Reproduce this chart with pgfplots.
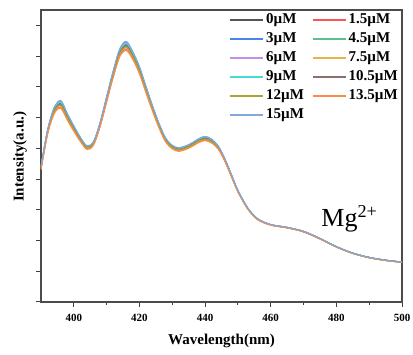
\documentclass[border=0pt]{standalone}
\usepackage{pgfplots}
\pgfplotsset{compat=1.18}
\usepackage{pgfplotstable}
\usepackage{fontspec}
\setmainfont{Liberation Serif}
\definecolor{serA}{RGB}{85,85,85}
\definecolor{serB}{RGB}{250,85,85}
\definecolor{serC}{RGB}{74,134,232}
\definecolor{serD}{RGB}{92,191,140}
\definecolor{serE}{RGB}{192,143,230}
\definecolor{serF}{RGB}{227,181,74}
\definecolor{serG}{RGB}{69,218,218}
\definecolor{serH}{RGB}{142,110,110}
\definecolor{serI}{RGB}{170,166,50}
\definecolor{serJ}{RGB}{255,140,70}
\definecolor{serK}{RGB}{126,169,218}
\pgfplotstableread{
x a b c d e f g h i j k
390 4.38 4.32 4.41 4.35 4.40 4.34 4.39 4.37 4.35 4.30 4.42
392 5.55 5.47 5.59 5.52 5.57 5.50 5.56 5.53 5.51 5.45 5.60
394 6.25 6.15 6.31 6.21 6.28 6.18 6.27 6.23 6.20 6.12 6.32
396 6.47 6.34 6.54 6.42 6.51 6.38 6.49 6.44 6.40 6.30 6.56
398 6.06 5.95 6.12 6.02 6.10 5.99 6.08 6.04 6.00 5.92 6.14
400 5.67 5.58 5.72 5.63 5.69 5.60 5.68 5.65 5.62 5.55 5.73
402 5.31 5.24 5.35 5.28 5.33 5.26 5.32 5.30 5.27 5.22 5.36
404 5.04 4.98 5.07 5.01 5.06 5.00 5.05 5.03 5.01 4.96 5.08
406 5.18 5.12 5.21 5.15 5.20 5.14 5.19 5.17 5.15 5.10 5.22
408 5.79 5.72 5.83 5.76 5.81 5.74 5.80 5.78 5.75 5.70 5.84
410 6.62 6.53 6.67 6.58 6.64 6.55 6.63 6.60 6.57 6.50 6.68
412 7.44 7.33 7.50 7.40 7.48 7.37 7.46 7.42 7.38 7.30 7.52
414 8.15 8.02 8.22 8.10 8.19 8.06 8.17 8.12 8.08 7.98 8.24
416 8.38 8.23 8.46 8.32 8.42 8.27 8.40 8.35 8.29 8.18 8.48
418 8.05 7.92 8.12 8.00 8.09 7.96 8.07 8.02 7.98 7.88 8.14
420 7.58 7.46 7.64 7.53 7.61 7.49 7.60 7.55 7.51 7.42 7.66
422 6.94 6.83 7.00 6.89 6.97 6.86 6.95 6.92 6.88 6.80 7.01
424 6.32 6.23 6.37 6.28 6.34 6.25 6.33 6.30 6.27 6.20 6.38
426 5.75 5.67 5.79 5.72 5.77 5.70 5.76 5.73 5.71 5.65 5.80
428 5.28 5.22 5.32 5.26 5.30 5.24 5.29 5.27 5.25 5.20 5.33
430 5.06 5.00 5.09 5.03 5.08 5.02 5.07 5.05 5.03 4.98 5.10
432 4.98 4.92 5.01 4.95 5.00 4.94 4.99 4.97 4.95 4.90 5.02
435 5.08 5.02 5.11 5.05 5.10 5.04 5.09 5.07 5.05 5.00 5.12
438 5.26 5.20 5.30 5.24 5.28 5.22 5.27 5.25 5.23 5.18 5.31
440 5.34 5.27 5.38 5.31 5.36 5.29 5.35 5.33 5.30 5.25 5.39
442 5.25 5.19 5.29 5.23 5.27 5.21 5.26 5.24 5.22 5.17 5.30
444 5.04 4.99 5.07 5.02 5.06 5.00 5.05 5.03 5.01 4.97 5.08
446 4.64 4.59 4.66 4.62 4.65 4.61 4.65 4.63 4.61 4.58 4.67
448 4.13 4.09 4.15 4.11 4.14 4.10 4.13 4.12 4.11 4.08 4.15
450 3.61 3.59 3.63 3.60 3.62 3.60 3.62 3.61 3.60 3.58 3.63
453 3.05 3.03 3.06 3.04 3.05 3.03 3.05 3.04 3.04 3.02 3.06
456 2.70 2.68 2.71 2.69 2.70 2.69 2.70 2.70 2.69 2.68 2.71
460 2.51 2.50 2.52 2.51 2.52 2.51 2.51 2.51 2.51 2.50 2.52
465 2.42 2.41 2.43 2.42 2.43 2.42 2.42 2.42 2.42 2.41 2.43
470 2.29 2.28 2.30 2.29 2.30 2.29 2.29 2.29 2.29 2.28 2.30
475 2.06 2.05 2.07 2.06 2.07 2.06 2.06 2.06 2.06 2.05 2.07
480 1.80 1.79 1.80 1.79 1.80 1.79 1.80 1.80 1.79 1.79 1.80
485 1.59 1.58 1.59 1.58 1.59 1.58 1.59 1.59 1.58 1.58 1.59
490 1.45 1.44 1.45 1.44 1.45 1.44 1.45 1.45 1.44 1.44 1.45
495 1.36 1.35 1.36 1.35 1.36 1.35 1.36 1.36 1.35 1.35 1.36
500 1.30 1.29 1.30 1.29 1.30 1.29 1.30 1.30 1.29 1.29 1.30
}\spec
\begin{document}
\begin{tikzpicture}
\begin{axis}[
  name=ax,
  scale only axis, width=361pt, height=292pt,
  xmin=390, xmax=500, ymin=0, ymax=9.5,
  xtick={400,420,...,500}, minor x tick num=1,
  ytick={0,1,...,9}, yticklabels={},
  tick align=outside, xtick pos=bottom, ytick pos=left,
  major tick length=5pt, minor tick length=3pt,
  axis line style={draw=black!70, line width=1.2pt},
  every tick/.style={black!75, line width=1pt},
  /pgf/number format/assume math mode=true,
  ticklabel style={font=\bfseries\fontsize{11}{11}\selectfont},
  xticklabel style={yshift=-4pt},
  xlabel={Wavelength(nm)}, ylabel={Intensity(a.u.)},
  label style={font=\bfseries\fontsize{15}{15}\selectfont},
  xlabel style={at={(axis description cs:0.5,-0.132)}, anchor=center},
  ylabel style={at={(axis description cs:-0.058,0.497)}, anchor=center},
  legend columns=2,
  legend cell align=left,
  legend style={at={(1,1)}, anchor=north east, draw=none, fill=none,
    font=\bfseries\fontsize{15}{15}\selectfont,
    inner sep=2pt,
    nodes={inner xsep=2pt, inner ysep=1pt, text height=10pt, text depth=3pt},
    row sep=4pt, /tikz/every even column/.append style={column sep=6pt}},
  legend image code/.code={\draw[#1, line width=1.8pt] (0pt,0pt) -- (33pt,0pt);},
  every axis plot/.append style={line width=1pt, smooth},
]
\addplot[color=serA] table[x=x,y=a]{\spec}; \addlegendentry{0µM}
\addplot[color=serB] table[x=x,y=b]{\spec}; \addlegendentry{1.5µM}
\addplot[color=serC] table[x=x,y=c]{\spec}; \addlegendentry{3µM}
\addplot[color=serD] table[x=x,y=d]{\spec}; \addlegendentry{4.5µM}
\addplot[color=serE] table[x=x,y=e]{\spec}; \addlegendentry{6µM}
\addplot[color=serF] table[x=x,y=f]{\spec}; \addlegendentry{7.5µM}
\addplot[color=serG] table[x=x,y=g]{\spec}; \addlegendentry{9µM}
\addplot[color=serH] table[x=x,y=h]{\spec}; \addlegendentry{10.5µM}
\addplot[color=serI] table[x=x,y=i]{\spec}; \addlegendentry{12µM}
\addplot[color=serJ] table[x=x,y=j]{\spec}; \addlegendentry{13.5µM}
\addplot[color=serK] table[x=x,y=k]{\spec}; \addlegendentry{15µM}
\node[anchor=base west, inner sep=0pt, font=\fontsize{26}{26}\selectfont] at (axis cs:475.4,2.47) {Mg\textsuperscript{2+}};
\end{axis}
\pgfresetboundingbox
\path[use as bounding box] ([xshift=-41pt,yshift=-53pt]ax.south west) rectangle ([xshift=11pt,yshift=10pt]ax.north east);
\end{tikzpicture}
\end{document}
